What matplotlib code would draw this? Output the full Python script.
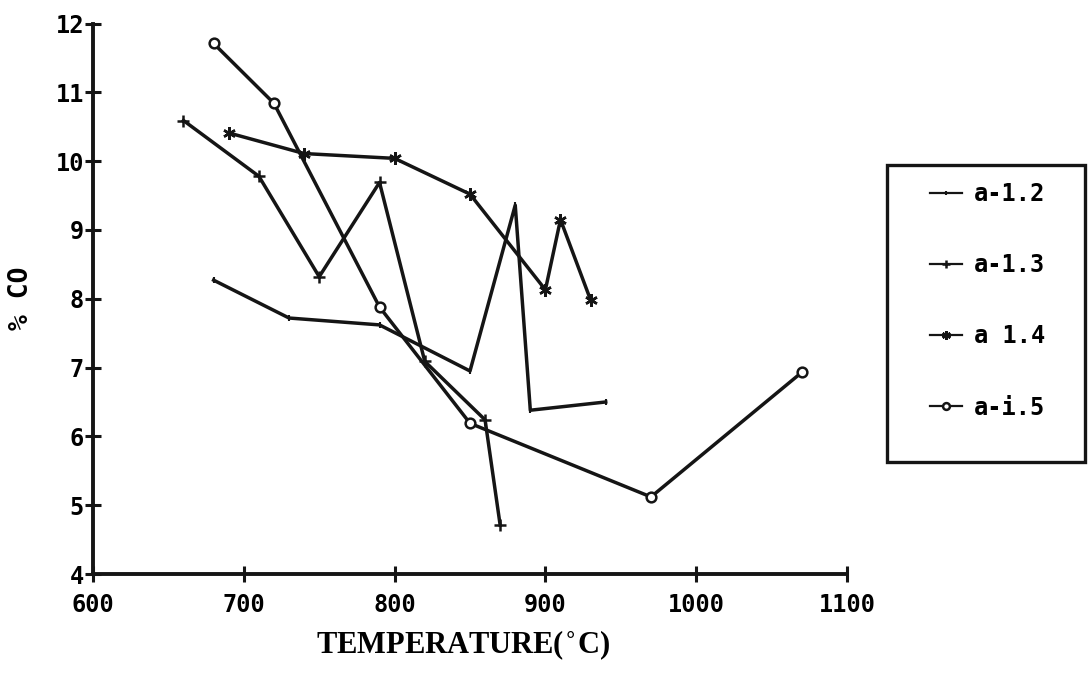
import matplotlib
matplotlib.use("Agg")
import matplotlib.pyplot as plt
from matplotlib.patches import Rectangle

# Temperature (deg C) and % CO for each run
temp_a12 = [680, 730, 790, 850, 880, 890, 940]
co_a12 = [8.27, 7.72, 7.62, 6.95, 9.36, 6.38, 6.50]

temp_a13 = [660, 710, 750, 790, 820, 860, 870]
co_a13 = [10.59, 9.78, 8.32, 9.69, 7.09, 6.24, 4.71]

temp_a14 = [690, 740, 800, 850, 900, 910, 930]
co_a14 = [10.41, 10.11, 10.04, 9.52, 8.13, 9.15, 7.98]

temp_a15 = [680, 720, 790, 850, 970, 1070]
co_a15 = [11.71, 10.84, 7.88, 6.19, 5.12, 6.93]

labels = ["a-1.2", "a-1.3", "a 1.4", "a-i.5"]
x_ticks = [600, 700, 800, 900, 1000, 1100]
y_ticks = [4, 5, 6, 7, 8, 9, 10, 11, 12]

MONO = ["DejaVu Sans Mono"]
SERIF = ["Liberation Serif", "DejaVu Serif"]
W, H = 1091, 673

fig = plt.figure(figsize=(W / 100, H / 100), dpi=100)
fig.patch.set_facecolor("white")
ax = fig.add_axes([93 / W, 1 - 574 / H, (847 - 93) / W, (574 - 23.5) / H])

lw = 2.5
ink = "#151515"
ax.plot(temp_a12, co_a12, color=ink, lw=lw, marker="|", ms=5, mew=1.5,
        label=labels[0])
ax.plot(temp_a13, co_a13, color=ink, lw=lw, marker="+", ms=9, mew=1.8,
        label=labels[1])
ax.plot(temp_a14, co_a14, color=ink, lw=lw, marker=(6, 2, 0), ms=9, mew=1.8,
        label=labels[2])
ax.plot(temp_a15, co_a15, color=ink, lw=lw, marker="o", ms=7, mew=1.8,
        mfc="white", mec=ink, label=labels[3])

ax.set_xlim(600, 1100)
ax.set_ylim(4, 12)
ax.set_xticks(x_ticks)
ax.set_yticks(y_ticks)
ax.set_xticklabels([str(v) for v in x_ticks], family=MONO, fontweight="bold",
                   fontsize=17)
ax.set_yticklabels([str(v) for v in y_ticks], family=MONO, fontweight="bold",
                   fontsize=17)
ax.tick_params(axis="both", direction="inout", length=11, width=2.2,
               color=ink)
ax.tick_params(axis="y", pad=1)
ax.tick_params(axis="x", pad=8)

for side in ("top", "right"):
    ax.spines[side].set_visible(False)
for side in ("left", "bottom"):
    ax.spines[side].set_linewidth(2.8)
    ax.spines[side].set_color(ink)

ax.set_xlabel("TEMPERATURE($^{\\circ}$C)", family=SERIF, fontweight="bold",
              fontsize=22)
ax.xaxis.set_label_coords((463 - 93) / (847 - 93), -(628 - 574) / (574 - 23.5))
ax.set_ylabel("% CO", family=MONO, fontweight="bold", fontsize=19)
ax.yaxis.set_label_coords(-(93 - 34) / (847 - 93), (574 - 298) / (574 - 23.5))

# legend box drawn as a plain frame, entries placed inside it
fig.patches.append(Rectangle((887 / W, 1 - 462 / H), (1085 - 887) / W,
                             (462 - 165) / H, transform=fig.transFigure,
                             fill=False, edgecolor=ink, linewidth=2.4))
leg = ax.legend(loc="upper left", bbox_to_anchor=(930 / W, 1 - 182 / H),
                bbox_transform=fig.transFigure, frameon=False,
                prop={"family": MONO, "weight": "bold", "size": 17},
                handlelength=1.35, handletextpad=0.5, labelspacing=2.0,
                borderpad=0, borderaxespad=0, numpoints=1, markerscale=0.7)
for h in leg.get_lines():
    h.set_linewidth(1.6)

fig.savefig("out.png", dpi=100, facecolor="white")
